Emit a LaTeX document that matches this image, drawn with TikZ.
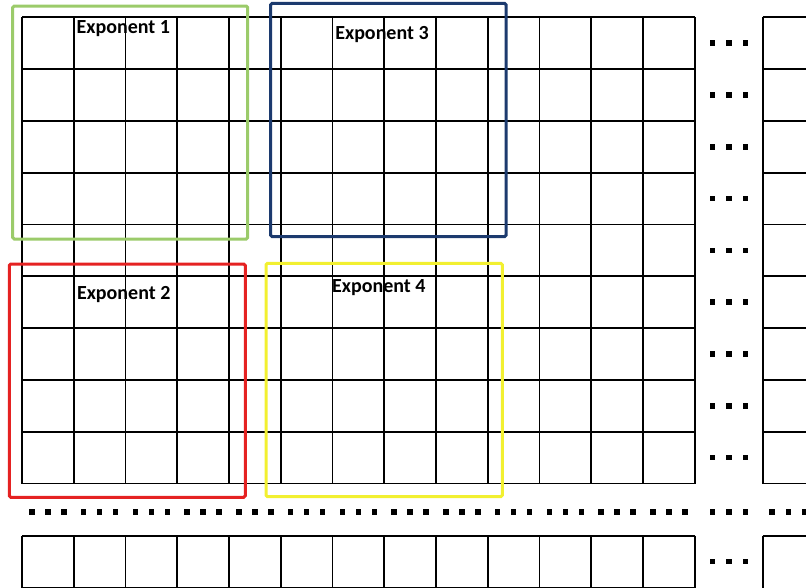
\documentclass[tikz,border=0pt]{standalone}
\usepackage{fontspec}
\setmainfont{Carlito}
\definecolor{expgreen}{HTML}{9BCB6A}
\definecolor{expnavy}{HTML}{1C3A6E}
\definecolor{expred}{HTML}{E52222}
\definecolor{expyellow}{HTML}{F2F030}

\begin{document}
\begin{tikzpicture}[
  x=1pt,y=-1pt,
  cell/.style={draw=black,line width=1.9pt},
  region/.style={line width=3pt,rounded corners=1.5pt},
  explabel/.style={font=\bfseries\fontsize{20}{20}\selectfont,inner sep=0pt}
]
  \useasboundingbox (0,0) rectangle (806,587);
  \clip (0,0) rectangle (806,587);
  % labels (grid lines run over them)
  \node[explabel] (exp1) at (123.3,28.3) {Exponent 1};
  \node[explabel] (exp3) at (382,35) {Exponent 3};
  \node[explabel] (exp2) at (123.7,294.3) {Exponent 2};
  \node[explabel] (exp4) at (378.8,287.7) {Exponent 4};
  % main grid, 13 x 9
  \foreach \i in {0,...,13}
    \draw[cell] (22+51.75*\i,17.3) -- (22+51.75*\i,483.7);
  \foreach \j in {0,...,9}
    \draw[cell] (22,17.3+51.8*\j) -- (694.75,17.3+51.8*\j);
  % last column
  \draw[cell] (762.7,17.3) -- (762.7,483.7);
  \foreach \j in {0,...,9}
    \draw[cell] (762.7,17.3+51.8*\j) -- (815,17.3+51.8*\j);
  % last row
  \draw[cell] (22,535.7) -- (694.75,535.7);
  \draw[cell] (22,587.5) -- (694.75,587.5);
  \foreach \i in {0,...,13}
    \draw[cell] (22+51.75*\i,535.7) -- (22+51.75*\i,590);
  \draw[cell] (762.7,535.7) -- (815,535.7);
  \draw[cell] (762.7,535.7) -- (762.7,590);
  % ellipsis dots, one group per row
  \foreach \j in {0,...,8}
    \foreach \dx in {-16.5,0,16.5}
      \fill (729+\dx-2.8,17.3+51.8*\j+25.9-2.8) rectangle ++(5.6,5.6);
  \foreach \dx in {-16.5,0,16.5}
    \fill (729+\dx-2.8,561.6-2.8) rectangle ++(5.6,5.6);
  % dotted row between the grid and the last row
  \foreach \i in {0,...,12}
    \foreach \dx in {-16,0,16}
      \fill (22+51.75*\i+25.9+\dx-2.8,511.7-2.8) rectangle ++(5.6,5.6);
  \foreach \cx in {729,788.6}
    \foreach \dx in {-16.5,0,16.5}
      \fill (\cx+\dx-2.8,511.7-2.8) rectangle ++(5.6,5.6);
  % exponent regions
  \draw[region,expgreen] (12.7,6) rectangle (247.7,239);
  \draw[region,expnavy] (270.7,3.3) rectangle (506,236.7);
  \draw[region,expred] (9.3,264) rectangle (245.3,497.3);
  \draw[region,expyellow] (266,263.3) rectangle (502.3,496.7);
\end{tikzpicture}
\end{document}
